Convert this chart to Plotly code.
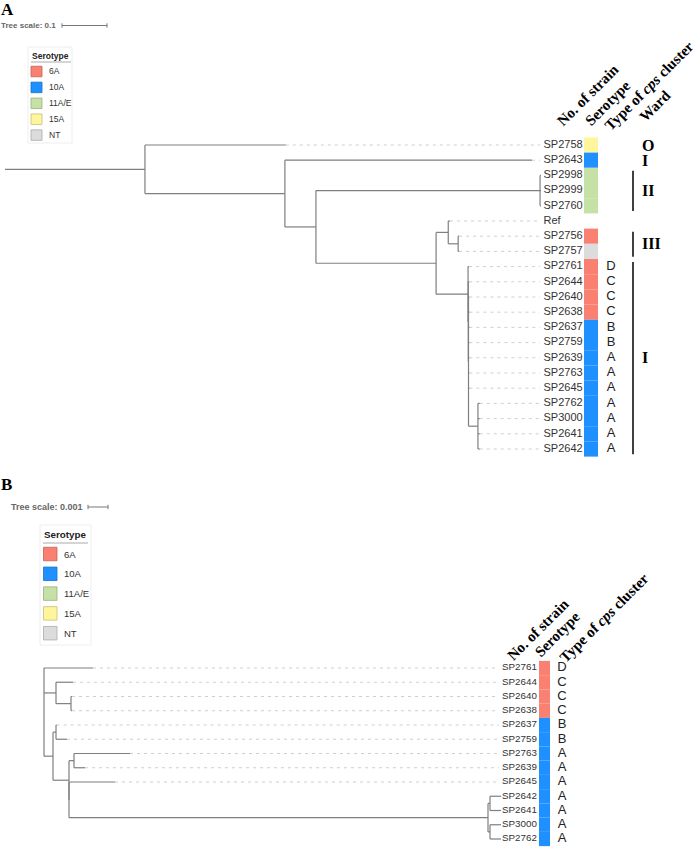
import plotly.graph_objects as go

W, H = 696, 847

# ------------------------------------------------------------------ data
# Panel A: whole-genome tree (Newick, branch lengths = substitutions/site)
newick_A = ("(SP2758:0.313,(SP2643:0.549,((SP2998:0.002,SP2999:0.002,SP2760:0.002):0.498,"
            "((Ref:0.004,(SP2756:0.002,SP2757:0.002):0.022):0.027,(SP2761:0.002,(SP2644:0.002,"
            "(SP2640:0.002,SP2638:0.002,SP2637:0.002,SP2759:0.002,SP2639:0.002,SP2763:0.002,"
            "SP2645:0.002,(SP2762:0.004,SP3000:0.004,SP2641:0.004,SP2642:0.004):0.021):0.0005)"
            ":0.0005):0.071):0.267):0.069):0.311):0.311;")
# Panel B: cps-cluster tree
newick_B = ("(SP2761:0.00245,(SP2644:0.00085,(SP2640:0.00005,SP2638:0.00005):0.00075):0.0006,"
            "((SP2637:0.00003,SP2759:0.00055):0.00015,((SP2763:0.0028,SP2639:0.00055):0.00025,"
            "(SP2645:0.0023,((SP2642:0.00055,SP2641:0.00055):0.0001,(SP3000:0.00055,"
            "SP2762:0.00055):0.0001):0.02095):0):0.0008):0.00045);")

tree_scale_A = 0.1
tree_scale_B = 0.001

serotype_names = ["6A", "10A", "11A/E", "15A", "NT"]
serotype_colors = ["#FA8072", "#1E90FF", "#C5E1A5", "#FFF59D", "#DCDCDC"]

strains_A = ["SP2758", "SP2643", "SP2998", "SP2999", "SP2760", "Ref", "SP2756", "SP2757",
             "SP2761", "SP2644", "SP2640", "SP2638", "SP2637", "SP2759", "SP2639", "SP2763",
             "SP2645", "SP2762", "SP3000", "SP2641", "SP2642"]
serotype_A = ["15A", "10A", "11A/E", "11A/E", "11A/E", None, "6A", "NT",
              "6A", "6A", "6A", "6A", "10A", "10A", "10A", "10A",
              "10A", "10A", "10A", "10A", "10A"]
cps_A = ["", "", "", "", "", "", "", "",
         "D", "C", "C", "C", "B", "B", "A", "A", "A", "A", "A", "A", "A"]
ward_labels = ["O", "I", "II", "III", "I"]
ward_first = ["SP2758", "SP2643", "SP2998", "SP2756", "SP2761"]
ward_last = ["SP2758", "SP2643", "SP2760", "SP2757", "SP2642"]

strains_B = ["SP2761", "SP2644", "SP2640", "SP2638", "SP2637", "SP2759", "SP2763",
             "SP2639", "SP2645", "SP2642", "SP2641", "SP3000", "SP2762"]
serotype_B = ["6A", "6A", "6A", "6A", "10A", "10A", "10A", "10A", "10A", "10A", "10A", "10A", "10A"]
cps_B = ["D", "C", "C", "C", "B", "B", "A", "A", "A", "A", "A", "A", "A"]

headers = ["No. of strain", "Serotype", "Type of <i>cps</i> cluster", "Ward"]


# ------------------------------------------------------------------ helpers
def parse_newick(s):
    s = s.strip().rstrip(";")
    pos = 0

    def parse():
        nonlocal pos
        node = {"children": [], "name": "", "bl": 0.0}
        if s[pos] == "(":
            pos += 1
            while True:
                node["children"].append(parse())
                if s[pos] == ",":
                    pos += 1
                    continue
                pos += 1  # ')'
                break
        start = pos
        while pos < len(s) and s[pos] not in ":,()":
            pos += 1
        node["name"] = s[start:pos]
        if pos < len(s) and s[pos] == ":":
            pos += 1
            start = pos
            while pos < len(s) and s[pos] not in ",()":
                pos += 1
            node["bl"] = float(s[start:pos])
        return node

    return parse()


def layout_tree(root):
    leaves = []

    def place(node, x):
        node["x"] = x
        if not node["children"]:
            node["y"] = len(leaves)
            leaves.append(node)
        else:
            for c in node["children"]:
                place(c, x + c["bl"])
            node["y"] = (node["children"][0]["y"] + node["children"][-1]["y"]) / 2

    place(root, root["bl"])
    xs, ys = [], []

    def collect(node, parent_x):
        xs.extend([parent_x, node["x"], None])
        ys.extend([node["y"], node["y"], None])
        if node["children"]:
            xs.extend([node["x"], node["x"], None])
            ys.extend([node["children"][0]["y"], node["children"][-1]["y"], None])
            for c in node["children"]:
                collect(c, node["x"])

    collect(root, 0.0)
    return leaves, xs, ys


def darker(hexcol, f=0.78):
    r, g, b = int(hexcol[1:3], 16), int(hexcol[3:5], 16), int(hexcol[5:7], 16)
    return "rgb(%d,%d,%d)" % (r * f, g * f, b * f)


def px(x):
    return x / W


def py(y):
    return 1 - y / H


# axis geometry (pixel placement of the two panels)
A_x0, A_ppu = 5.0, 450.0      # root x pixel, pixels per unit branch length
A_y0, A_dy = 145.0, 15.2      # first leaf pixel, leaf spacing
B_x0, B_ppu = 44.0, 20000.0
B_y0, B_dy = 668.0, 14.25
SPLIT = 470.0


def ax(p):
    return (p - A_x0) / A_ppu


def ay(p):
    return (p - A_y0) / A_dy


def bx(p):
    return (p - B_x0) / B_ppu


def by(p):
    return (p - B_y0) / B_dy


col_of = dict(zip(serotype_names, serotype_colors))
TREE_COL = "#7f7f7f"
DASH_COL = "#cfcfcf"
SANS = "Liberation Sans, Arial, sans-serif"
SERIF = "Liberation Serif, Times New Roman, serif"

fig = go.Figure()


def add_panel(newick, strains, serotypes, cps, xa, ya, fx, fy, align_px, label_px,
              strip_px, letter_px, label_size, root_edge):
    root = parse_newick(newick)
    if not root_edge:
        root["bl"] = 0.0
    leaves, xs, ys = layout_tree(root)
    names = [l["name"] for l in leaves]
    assert names == strains, names
    # dashed guide lines
    dx, dy = [], []
    for l in leaves:
        if l["x"] < fx(align_px):
            dx.extend([l["x"], fx(align_px), None])
            dy.extend([l["y"], l["y"], None])
    fig.add_trace(go.Scatter(x=dx, y=dy, mode="lines", xaxis=xa, yaxis=ya,
                             line=dict(color=DASH_COL, width=1, dash="3px,4px"),
                             hoverinfo="skip", showlegend=False))
    if not root_edge:
        xs, ys = xs[3:], ys[3:]
    fig.add_trace(go.Scatter(x=xs, y=ys, mode="lines", xaxis=xa, yaxis=ya,
                             line=dict(color=TREE_COL, width=1.2),
                             hoverinfo="skip", showlegend=False))
    # leaf labels
    fig.add_trace(go.Scatter(x=[fx(label_px)] * len(leaves), y=[l["y"] for l in leaves],
                             text=names, mode="text", textposition="middle right",
                             textfont=dict(family=SANS, size=label_size, color="#333"),
                             xaxis=xa, yaxis=ya, cliponaxis=False,
                             hoverinfo="skip", showlegend=False))
    # serotype strip
    idx = [l["y"] for l, s in zip(leaves, serotypes) if s]
    cols = [col_of[s] for s in serotypes if s]
    fig.add_trace(go.Bar(y=idx, x=[fx(strip_px[1]) - fx(strip_px[0])] * len(idx),
                         base=[fx(strip_px[0])] * len(idx), width=1, orientation="h",
                         marker=dict(color=cols, line=dict(width=0)),
                         xaxis=xa, yaxis=ya, hoverinfo="skip", showlegend=False))
    # cps type letters
    ly = [l["y"] for l, c in zip(leaves, cps) if c]
    lt = [c for c in cps if c]
    fig.add_trace(go.Scatter(x=[fx(letter_px)] * len(ly), y=ly, text=lt, mode="text",
                             textposition="middle center",
                             textfont=dict(family=SANS, size=13, color="#222"),
                             xaxis=xa, yaxis=ya, cliponaxis=False,
                             hoverinfo="skip", showlegend=False))
    return {l["name"]: l["y"] for l in leaves}


yA = add_panel(newick_A, strains_A, serotype_A, cps_A, "x", "y", ax, ay,
               540, 543.5, (584, 598), 611, 11, True)
yB = add_panel(newick_B, strains_B, serotype_B, cps_B, "x2", "y2", bx, by,
               499, 502, (539, 550), 562, 9.8, False)

# ward bars and labels (panel A)
wx, wy, lx, lyy = [], [], [], []
for lab, f, l in zip(ward_labels, ward_first, ward_last):
    y1, y2 = yA[f], yA[l]
    if y2 > y1:
        wx.extend([ax(633), ax(633), None])
        wy.extend([y1 - 0.3, y2 + 0.35, None])
    lx.append(ax(642))
    lyy.append((y1 + y2) / 2 + 0.1)
fig.add_trace(go.Scatter(x=wx, y=wy, mode="lines", line=dict(color="black", width=1.5),
                         xaxis="x", yaxis="y", hoverinfo="skip", showlegend=False))
fig.add_trace(go.Scatter(x=lx, y=lyy, text=["<b>%s</b>" % t for t in ward_labels],
                         mode="text", textposition="middle right",
                         textfont=dict(family=SERIF, size=16, color="black"),
                         xaxis="x", yaxis="y", cliponaxis=False,
                         hoverinfo="skip", showlegend=False))

# tree-scale bars
for scale, xa, ya, fx, fy, x0p, y0p in [(tree_scale_A, "x", "y", ax, ay, 62, 25.5),
                                        (tree_scale_B, "x2", "y2", bx, by, 88, 507)]:
    x0 = fx(x0p)
    yc = fy(y0p)
    t = 2.2 / (A_dy if ya == "y" else B_dy)
    fig.add_trace(go.Scatter(x=[x0, x0 + scale, None, x0, x0, None, x0 + scale, x0 + scale],
                             y=[yc, yc, None, yc - t, yc + t, None, yc - t, yc + t],
                             mode="lines", line=dict(color="#777", width=1),
                             xaxis=xa, yaxis=ya, hoverinfo="skip", showlegend=False))

annotations = []
shapes = []


def ann(text, x, y, size, family=SANS, color="#333", xanchor="left", angle=0):
    annotations.append(dict(text=text, x=px(x), y=py(y), xref="paper", yref="paper",
                            showarrow=False, xanchor=xanchor, yanchor="middle",
                            textangle=angle, font=dict(family=family, size=size, color=color)))


ann("<b>A</b>", -1, 9, 17, SERIF, "black")
ann("<b>B</b>", -1, 485, 17, SERIF, "black")
ann("<b>Tree scale: %g</b>" % tree_scale_A, -1, 25.5, 8, SANS, "#666")
ann("<b>Tree scale: %g</b>" % tree_scale_B, 9, 507, 9, SANS, "#666")

# column headers
for text, (cx, cy) in zip(headers, [(588, 95), (607.5, 102.5), (649, 86), (655, 106.5)]):
    ann("<b>%s</b>" % text, cx, cy, 15, SERIF, "black", "center", -45)
for text, (cx, cy) in zip(headers[:3], [(537.5, 629.5), (557.5, 634), (604, 618)]):
    ann("<b>%s</b>" % text, cx, cy, 15, SERIF, "black", "center", -45)


# serotype legends
def legend(box, tx, ty, ul, sw_x, sw_w, sw_h, sw_y0, sw_dy, lab_x, fs_t, fs_l):
    shapes.append(dict(type="rect", xref="paper", yref="paper", x0=px(box[0]), x1=px(box[1]),
                       y0=py(box[2]), y1=py(box[3]), line=dict(color="#eeeeee", width=1),
                       fillcolor="rgba(255,255,255,0)"))
    ann("<b>Serotype</b>", tx, ty, fs_t, SANS, "#222")
    shapes.append(dict(type="line", xref="paper", yref="paper", x0=px(ul[0]), x1=px(ul[1]),
                       y0=py(ul[2]), y1=py(ul[2]), line=dict(color="#aaaaaa", width=1)))
    for k, (nm, c) in enumerate(zip(serotype_names, serotype_colors)):
        yc = sw_y0 + k * sw_dy
        shapes.append(dict(type="rect", xref="paper", yref="paper", x0=px(sw_x),
                           x1=px(sw_x + sw_w), y0=py(yc - sw_h / 2), y1=py(yc + sw_h / 2),
                           fillcolor=c, line=dict(color=darker(c), width=0.8)))
        ann(nm, lab_x, yc, fs_l, SANS, "#333")


legend((28, 72, 47, 143), 30, 56, (31, 71, 62), 31, 11, 10.5, 71.5, 15.9, 47, 8.5, 8.5)
legend((40, 91, 525, 645), 42, 534, (43, 88, 543), 43.5, 13.5, 13.5, 554, 19.8, 62, 9.8, 9.5)

fig.update_layout(
    width=W, height=H, margin=dict(l=0, r=0, t=0, b=0),
    paper_bgcolor="white", plot_bgcolor="white", showlegend=False,
    annotations=annotations, shapes=shapes, hovermode=False,
    xaxis=dict(domain=[0, 1], range=[ax(0), ax(W)], visible=False, fixedrange=True),
    yaxis=dict(domain=[py(SPLIT), 1], range=[ay(SPLIT), ay(0)], visible=False, fixedrange=True),
    xaxis2=dict(domain=[0, 1], range=[bx(0), bx(W)], visible=False, anchor="y2", fixedrange=True),
    yaxis2=dict(domain=[0, py(SPLIT)], range=[by(H), by(SPLIT)], visible=False, anchor="x2",
                fixedrange=True),
)

fig.write_html("out.html", config={"displayModeBar": False},
               post_script="document.body.style.margin='0px';document.body.style.overflow='hidden';")
